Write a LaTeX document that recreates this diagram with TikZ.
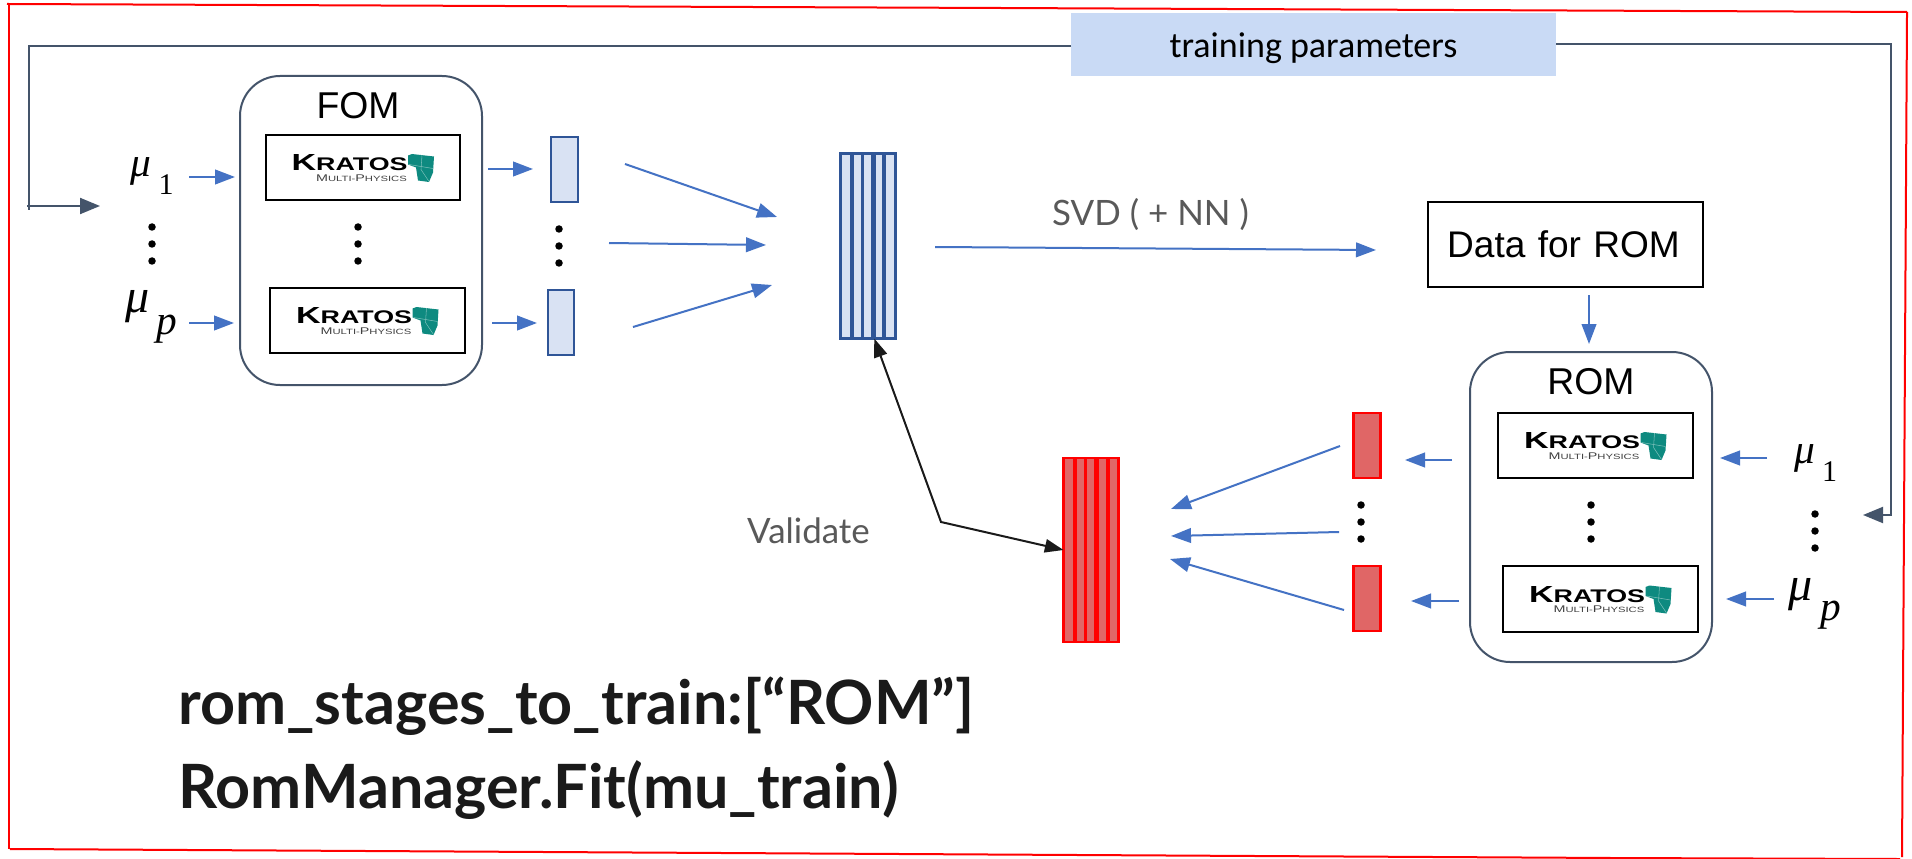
\documentclass[tikz,border=0pt]{standalone}
\usepackage{fontspec}
\usepackage{graphicx}
\usetikzlibrary{arrows.meta}
\setmainfont{Liberation Sans}
\newfontfamily\latofont{Lato}
\newfontfamily\carlitofont{Carlito}
\newfontfamily\serifont{Liberation Serif}
\def\PX{0.75pt}
\definecolor{arrowblue}{HTML}{4472C4}
\definecolor{slateline}{HTML}{44546A}
\definecolor{barfill}{HTML}{D9E2F3}
\definecolor{barline}{HTML}{2F5597}
\definecolor{redfill}{HTML}{E06666}
\definecolor{labelgrey}{HTML}{595959}
\definecolor{nearblack}{HTML}{1A1A1A}
\definecolor{tealk}{HTML}{0E8A80}
\definecolor{trainfill}{HTML}{C9DAF5}
\tikzset{
  x=0.75pt,y=-0.75pt,
  frameline/.style={draw=red,line width=2*\PX,line cap=rect},
  bluearrow/.style={draw=arrowblue,line width=2*\PX,-{Triangle[length=15pt,width=11pt]}},
  slatearrow/.style={draw=slateline,line width=2*\PX},
  slatetip/.style={-{Triangle[length=15pt,width=12pt]}},
  blackarrow/.style={draw=nearblack,line width=2*\PX,{Triangle[length=14pt,width=10pt]}-{Triangle[length=14pt,width=10pt]}},
  modelbox/.style={draw=slateline,line width=2*\PX,rounded corners=30pt,inner sep=0pt,outer sep=0pt},
  solverbox/.style={draw=black,line width=2*\PX,inner sep=0pt,outer sep=0pt},
  bluebar/.style={draw=barline,fill=barfill,line width=2.6*\PX,inner sep=0pt,outer sep=0pt},
  redbar/.style={draw=red,fill=redfill,line width=2.6*\PX,inner sep=0pt,outer sep=0pt},
  dotmark/.style={circle,fill=black,minimum size=7.5*\PX,inner sep=0pt},
  modeltitle/.style={inner sep=0pt,font=\fontsize{28}{32}\selectfont},
  greek/.style={inner sep=0pt,font=\serifont\itshape},
  greylabel/.style={inner sep=0pt,text=labelgrey,font=\latofont\fontsize{26.2}{30}\selectfont},
  codeline/.style={inner sep=0pt,anchor=base west,text=nearblack,font=\latofont\bfseries\fontsize{45.8}{52}\selectfont},
  kratos/.pic={
    \fill[tealk] (45,-12) -- (49,-13.5) -- (71,-11) -- (70,5) -- (66,14.5) -- (55,13) -- (53,0) -- (45,-3) -- cycle;
    \draw[white,opacity=.45,line width=.4pt] (59,-12.5) -- (58,2) -- (66,14) (46,-3) -- (70,1);
    \node[inner sep=0pt,text=black] (kname) at (-13.5,-4.5) {\resizebox{87pt}{12pt}{\bfseries\fontsize{14}{14}\selectfont K\fontsize{11}{11}\selectfont RATOS}};
    \node[inner sep=0pt,text=black!75] (ksub) at (-1.5,10.5) {\resizebox{68pt}{5pt}{\fontsize{7}{7}\selectfont M\fontsize{5.5}{7}\selectfont ULTI-\fontsize{7}{7}\selectfont P\fontsize{5.5}{7}\selectfont HYSICS}};
  }
}
\begin{document}
\begin{tikzpicture}
\useasboundingbox[fill=white] (0,0) rectangle (1912,859);

% red frame
\coordinate (ftl) at (8,4);
\coordinate (ftm) at (1000,8);
\coordinate (ftr) at (1906,12);
\coordinate (flt) at (9,6);
\coordinate (flb) at (9,848);
\coordinate (fbl) at (11,849);
\coordinate (fbm) at (1612,858);
\coordinate (fbr) at (1899,859);
\coordinate (frt) at (1907,13);
\coordinate (frb) at (1902,856);
\draw[frameline] (ftl) -- (ftm) -- (ftr);
\draw[frameline] (flt) -- (flb);
\draw[frameline] (fbl) -- (fbm) -- (fbr);
\draw[frameline] (frt) -- (frb);

% training parameters and feedback
\node[fill=trainfill,inner sep=0pt,outer sep=0pt,minimum width=485*\PX,minimum height=63*\PX,font=\carlitofont\fontsize{27}{30}\selectfont] (train) at (1313.5,44.5) {\smash{\raisebox{-9.4pt}{training parameters}}};
\coordinate (fbc1) at (29,46);
\coordinate (fbc2) at (29,210);
\coordinate (fbs) at (27,206);
\coordinate (fbe) at (100,206);
\coordinate (rbc1) at (1891,44);
\coordinate (rbc2) at (1891,515);
\coordinate (rbe) at (1863,515);
\draw[slatearrow] (train.west |- fbc1) -- (fbc1) -- (fbc2);
\draw[slatearrow,slatetip] (fbs) -- (fbe);
\draw[slatearrow,slatetip] (train.east |- rbc1) -- (rbc1) -- (rbc2) -- (rbe);

% FOM
\node[modelbox,minimum width=242*\PX,minimum height=309*\PX] (fom) at (361,230.5) {};
\node[modeltitle] (fomt) at (358,106) {FOM};
\node[solverbox,minimum width=194*\PX,minimum height=65*\PX] (fk1) at (363,167.5) {};
\node[solverbox,minimum width=195*\PX,minimum height=65*\PX] (fk2) at (367.5,320.5) {};
\pic at (fk1.center) {kratos};
\pic at (fk2.center) {kratos};

% FOM inputs
\node[greek,font=\serifont\itshape\fontsize{31}{36}\selectfont] (m1l) at (141,171) {μ};
\node[inner sep=0pt,font=\serifont\fontsize{22.5}{26}\selectfont] (m1s) at (166,185) {1};
\node[greek,font=\serifont\itshape\fontsize{36}{40}\selectfont] (mpl) at (138,307) {μ};
\node[greek,font=\serifont\itshape\fontsize{31}{34}\selectfont] (mps) at (167,329) {p};
\coordinate (a1s) at (189,177); \coordinate (a1e) at (235,177);
\coordinate (a2s) at (189,323); \coordinate (a2e) at (234,323);
\draw[bluearrow] (a1s) -- (a1e);
\draw[bluearrow] (a2s) -- (a2e);

% FOM outputs
\node[bluebar,minimum width=27*\PX,minimum height=65*\PX] (fb1) at (564.5,169.5) {};
\node[bluebar,minimum width=26*\PX,minimum height=65*\PX] (fb2) at (561,322.5) {};
\coordinate (o1s) at (488,169); \coordinate (o1e) at (533,169);
\coordinate (o2s) at (492,323); \coordinate (o2e) at (537,323);
\draw[bluearrow] (o1s) -- (o1e);
\draw[bluearrow] (o2s) -- (o2e);

% dots
\foreach \nm/\cx/\yy in {a/152/227,b/358/227,c/559/229,d/1361/505,e/1591/505,f/1815/514}{
  \node[dotmark] (\nm1) at (\cx,\yy) {};
  \node[dotmark] (\nm2) at (\cx,\yy+17) {};
  \node[dotmark] (\nm3) at (\cx,\yy+34) {};
}

% fan-in to blue matrix
\coordinate (ff1s) at (625,164); \coordinate (ff1e) at (777,217);
\coordinate (ff2s) at (609,243); \coordinate (ff2e) at (766,245);
\coordinate (ff3s) at (633,327); \coordinate (ff3e) at (772,285);
\draw[bluearrow] (ff1s) -- (ff1e);
\draw[bluearrow] (ff2s) -- (ff2e);
\draw[bluearrow] (ff3s) -- (ff3e);

% blue matrix
\foreach \nm/\cx/\cw in {bm1/846/11,bm2/857.5/9,bm3/867.5/10,bm4/879/9.5,bm5/890/11}{
  \node[bluebar,minimum width=\cw*\PX,minimum height=185*\PX] (\nm) at (\cx,246) {};
}

% SVD
\coordinate (svs) at (935,247); \coordinate (sve) at (1376,250);
\draw[bluearrow] (svs) -- (sve);
\node[greylabel] (svd) at (1150.5,215) {SVD ( + NN )};

% Data for ROM
\node[solverbox,minimum width=275*\PX,minimum height=85*\PX,font=\fontsize{27.8}{32}\selectfont,text width=272*\PX,align=center] (data) at (1565.5,244.5) {\hspace*{-3pt}Data for ROM};
\coordinate (ds) at (1589,295); \coordinate (de) at (1589,344);
\draw[bluearrow] (ds) -- (de);

% ROM
\node[modelbox,minimum width=242*\PX,minimum height=310*\PX] (rom) at (1591,507) {};
\node[modeltitle] (romt) at (1591,382) {ROM};
\node[solverbox,minimum width=195*\PX,minimum height=65*\PX] (rk1) at (1595.5,445.5) {};
\node[solverbox,minimum width=195*\PX,minimum height=66*\PX] (rk2) at (1600.5,599) {};
\pic at (rk1.center) {kratos};
\pic at (rk2.center) {kratos};

% ROM inputs
\node[greek,font=\serifont\itshape\fontsize{31}{36}\selectfont] (r1l) at (1804.5,458) {μ};
\node[inner sep=0pt,font=\serifont\fontsize{22.5}{26}\selectfont] (r1s) at (1829.5,472) {1};
\node[greek,font=\serifont\itshape\fontsize{36}{40}\selectfont] (rpl) at (1801,595) {μ};
\node[greek,font=\serifont\itshape\fontsize{31}{34}\selectfont] (rps) at (1830.5,615) {p};
\coordinate (r1as) at (1767,458); \coordinate (r1ae) at (1720,458);
\coordinate (r2as) at (1774,599); \coordinate (r2ae) at (1726,599);
\draw[bluearrow] (r1as) -- (r1ae);
\draw[bluearrow] (r2as) -- (r2ae);

% red bars
\node[redbar,minimum width=27*\PX,minimum height=65*\PX] (rb1) at (1367,445.5) {};
\node[redbar,minimum width=27*\PX,minimum height=65*\PX] (rb2) at (1367,598.5) {};
\coordinate (ro1s) at (1452,460); \coordinate (ro1e) at (1405,460);
\coordinate (ro2s) at (1459,601); \coordinate (ro2e) at (1411,601);
\draw[bluearrow] (ro1s) -- (ro1e);
\draw[bluearrow] (ro2s) -- (ro2e);

% fan-in to red matrix
\coordinate (rf1s) at (1340,446); \coordinate (rf1e) at (1171,509);
\coordinate (rf2s) at (1339,532); \coordinate (rf2e) at (1171,536);
\coordinate (rf3s) at (1344,610); \coordinate (rf3e) at (1170,559);
\draw[bluearrow] (rf1s) -- (rf1e);
\draw[bluearrow] (rf2s) -- (rf2e);
\draw[bluearrow] (rf3s) -- (rf3e);

% red matrix
\foreach \nm/\cx/\cw in {rm1/1069/11,rm2/1080.5/9,rm3/1090.5/10,rm4/1102.5/10,rm5/1113.5/10}{
  \node[redbar,minimum width=\cw*\PX,minimum height=184*\PX] (\nm) at (\cx,550) {};
}

% validate
\coordinate (vk) at (941,522);
\draw[blackarrow] (bm4.south west) -- (vk) -- (rm1.west);
\node[greylabel] (val) at (808.5,531) {Validate};

% command lines
\node[codeline] (cmd1) at (178,724) {rom\_stages\_to\_train:[“ROM”]};
\node[codeline] (cmd2) at (178,808) {RomManager.Fit(mu\_train)};
\end{tikzpicture}
\end{document}
